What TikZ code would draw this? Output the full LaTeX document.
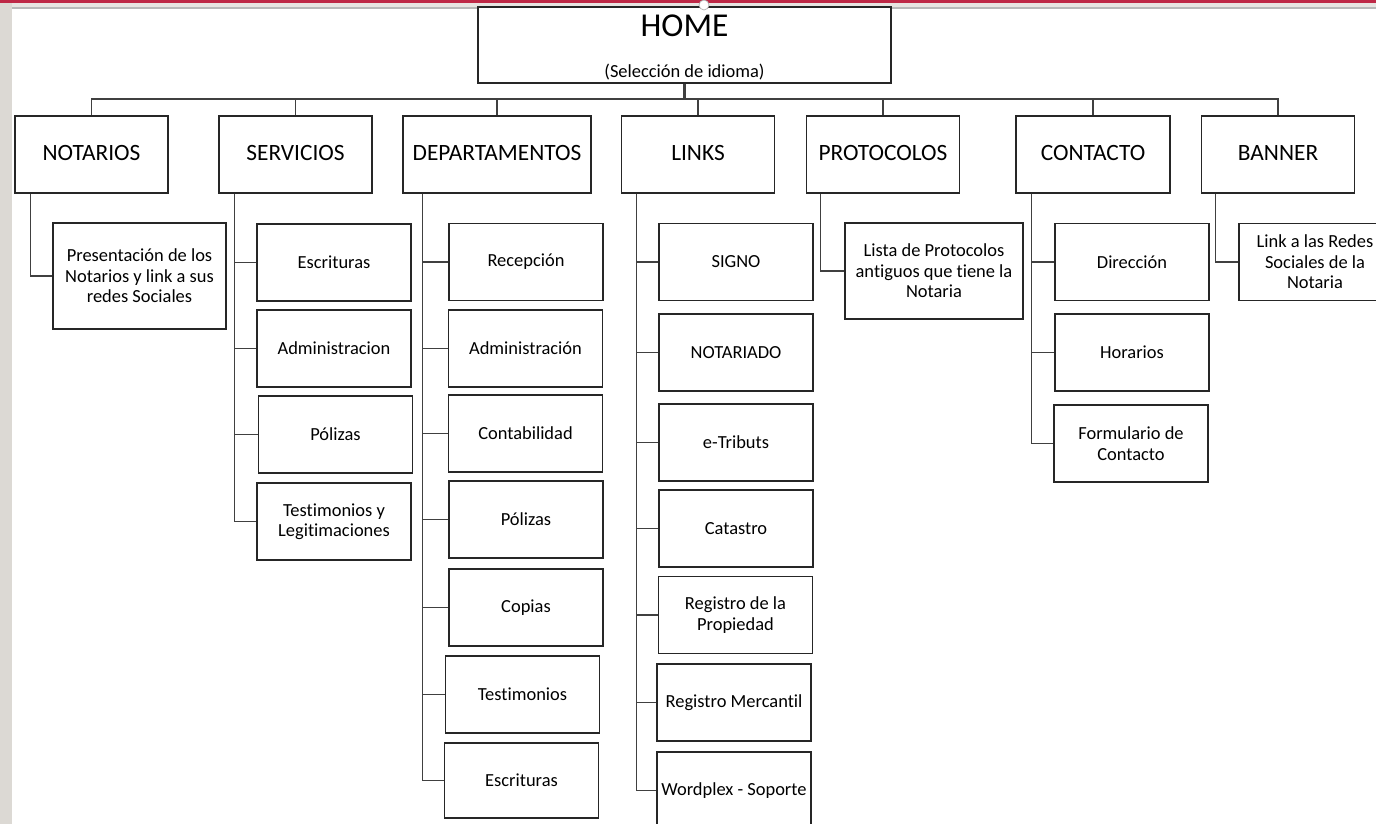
\documentclass[tikz,border=0pt]{standalone}
\usepackage{fontspec}
\setmainfont{Carlito}[Ligatures=NoCommon]
\usetikzlibrary{calc}

\definecolor{pagegray}{RGB}{220,217,212}
\definecolor{bandgray}{RGB}{232,229,226}
\definecolor{linegray}{RGB}{185,185,185}
\definecolor{topred}{RGB}{190,40,70}

\begin{document}
\begin{tikzpicture}[
    x=0.02cm, y=-0.02cm,
    box/.style={rectangle, draw=black!85, line width=0.8pt, fill=white, minimum width=3.06cm, minimum height=1.54cm, align=center, inner sep=1pt},
    mainbox/.style={box, font=\fontsize{13.3}{15}\selectfont, text height=1.45ex, text depth=0.05ex},
    subbox/.style={box, minimum width=3.08cm, font=\fontsize{10.5}{11.6}\selectfont},
    conn/.style={draw=black!75, line width=0.75pt}
]

% Page background
\useasboundingbox (0,0) rectangle (1376,824);
\fill[white] (0,0) rectangle (1376,824);
\fill[pagegray] (0,0) rectangle (12,824);
\fill[bandgray] (12,3) rectangle (1376,7);
\fill[linegray] (12,7) rectangle (1376,9);
\fill[topred] (0,0) rectangle (1376,3);

% Home
\node[box, minimum width=8.26cm, minimum height=1.52cm] (home) at (684.5,45) {};
\node[font=\fontsize{19}{21}\selectfont, inner sep=0pt] (hometitle) at (684.5,26) {HOME};
\node[font=\fontsize{10.5}{12}\selectfont, inner sep=0pt] (homesub) at (684.5,72) {(Selección de idioma)};
\draw[gray!60, fill=white] (704,5) circle (0.1cm);

% Sections
\node[mainbox] (notarios) at (91.5,154.5) {NOTARIOS};
\node[mainbox] (servicios) at (295.5,154.5) {SERVICIOS};
\node[mainbox, minimum width=3.76cm] (departamentos) at (497,154.5) {DEPARTAMENTOS};
\node[mainbox] (links) at (698,154.5) {LINKS};
\node[mainbox] (protocolos) at (883,154.5) {PROTOCOLOS};
\node[mainbox, minimum width=3.08cm] (contacto) at (1093,154.5) {CONTACTO};
\node[mainbox] (banner) at (1278,154.5) {BANNER};

% Home to sections
\coordinate (bus) at (0,99);
\foreach \n in {notarios,servicios,departamentos,links,protocolos,contacto,banner}
    \draw[conn] (home.south) |- (bus -| \n.north) -- (\n.north);
\draw[conn, line width=1.4pt] (home.south) -- (home.south |- bus);

% Notarios
\node[subbox, minimum width=3.46cm, minimum height=2.12cm] (presentacion) at (139.5,276) {Presentación de los\\Notarios y link a sus\\redes Sociales};

% Servicios
\node[subbox] (escrituras1) at (334,262.5) {Escrituras};
\node[subbox] (administracion1) at (334,348.5) {Administracion};
\node[subbox] (polizas1) at (335.5,434.5) {Pólizas};
\node[subbox] (testleg) at (334,521.5) {Testimonios y\\Legitimaciones};

% Departamentos
\node[subbox] (recepcion) at (526,262) {Recepción};
\node[subbox] (administracion2) at (525.5,348.5) {Administración};
\node[subbox] (contabilidad) at (525.5,433.5) {Contabilidad};
\node[subbox] (polizas2) at (526,519.5) {Pólizas};
\node[subbox] (copias) at (526,607.5) {Copias};
\node[subbox] (testimonios) at (522.5,694.5) {Testimonios};
\node[subbox, minimum height=1.5cm] (escrituras2) at (521.5,780.5) {Escrituras};

% Links
\node[subbox] (signo) at (736,262) {SIGNO};
\node[subbox] (notariado) at (736,352.5) {NOTARIADO};
\node[subbox] (etributs) at (736,442.5) {e-Tributs};
\node[subbox] (catastro) at (736,528.5) {Catastro};
\node[subbox] (regprop) at (735.5,615) {Registro de la\\Propiedad};
\node[subbox] (regmerc) at (734,702.5) {Registro Mercantil};
\node[subbox] (wordplex) at (734,790.5) {Wordplex - Soporte};

% Protocolos
\node[subbox, minimum width=3.56cm, minimum height=1.92cm] (lista) at (934,271) {Lista de Protocolos\\antiguos que tiene la\\Notaria};

% Contacto
\node[subbox] (direccion) at (1132,262) {Dirección};
\node[subbox] (horarios) at (1132,352.5) {Horarios};
\node[subbox] (formulario) at (1131,443.5) {Formulario de\\Contacto};

% Banner
\node[subbox, minimum width=3.04cm] (redes) at (1315,262) {Link a las Redes\\Sociales de la\\Notaria};

% Section trunks
\coordinate (nt) at ($(notarios.south west)+(16,0)$);
\coordinate (st) at ($(servicios.south west)+(16,0)$);
\coordinate (dt) at ($(departamentos.south west)+(20,0)$);
\coordinate (lt) at ($(links.south west)+(16,0)$);
\coordinate (pt) at ($(protocolos.south west)+(15,0)$);
\coordinate (ct) at ($(contacto.south west)+(16,0)$);
\coordinate (bt) at ($(banner.south west)+(15,0)$);

\draw[conn] (nt) |- (presentacion.west);
\foreach \c in {escrituras1,administracion1,polizas1,testleg}
    \draw[conn] (st) |- (\c.west);
\foreach \c in {recepcion,administracion2,contabilidad,polizas2,copias,testimonios,escrituras2}
    \draw[conn] (dt) |- (\c.west);
\foreach \c in {signo,notariado,etributs,catastro,regprop,regmerc,wordplex}
    \draw[conn] (lt) |- (\c.west);
\draw[conn] (pt) |- (lista.west);
\foreach \c in {direccion,horarios,formulario}
    \draw[conn] (ct) |- (\c.west);
\draw[conn] (bt) |- (redes.west);

\end{tikzpicture}
\end{document}
